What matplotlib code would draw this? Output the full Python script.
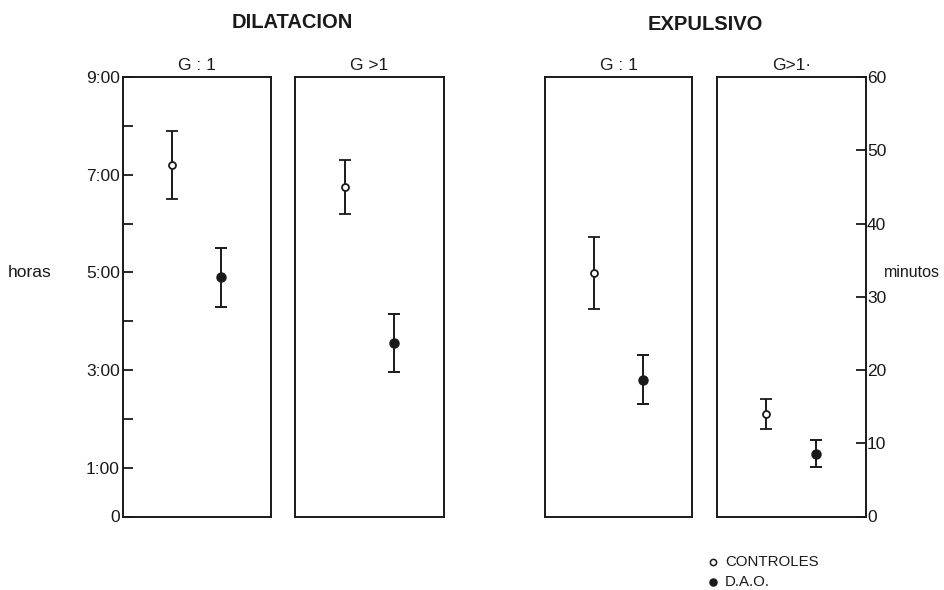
import matplotlib
matplotlib.use("Agg")
import matplotlib.pyplot as plt
from matplotlib.lines import Line2D

plt.rcParams['font.family'] = ['Liberation Sans', 'DejaVu Sans']

# Group labels
groups = ["G : 1", "G >1"]
groups_exp = ["G : 1", "G>1·"]

# Dilatación (hours): mean and error
dil_ctrl = [7.2, 6.75]
dil_ctrl_err = [0.7, 0.55]
dil_dao = [4.9, 3.55]
dil_dao_err = [0.6, 0.6]

# Expulsivo (minutes): mean and error
exp_ctrl = [33.2, 14.0]
exp_ctrl_err = [4.9, 2.0]
exp_dao = [18.7, 8.6]
exp_dao_err = [3.3, 1.9]

hour_ticks = [0, 1, 2, 3, 4, 5, 6, 7, 8, 9]
hour_labels = ["0", "1:00", "", "3:00", "", "5:00", "", "7:00", "", "9:00"]
minute_ticks = [0, 10, 20, 30, 40, 50, 60]
minute_labels = ["0", "10", "20", "30", "40", "50", "60"]

W, H = 944, 590
fig = plt.figure(figsize=(W / 100, H / 100), dpi=100)

def px_axes(x0, x1, y0=77, y1=516.5):
    return fig.add_axes([x0 / W, (H - y1) / H, (x1 - x0) / W, (y1 - y0) / H])

axes = [px_axes(122.7, 270.7), px_axes(295, 444),
        px_axes(545, 692.3), px_axes(716.7, 865.7)]

ink = "#1a1a1a"
err_kw = dict(ecolor=ink, elinewidth=1.4, capsize=4.2, capthick=1.4, linestyle="none")

def draw_pair(ax, c_mean, c_err, d_mean, d_err):
    ax.errorbar([1], [c_mean], yerr=[c_err], marker="o", markersize=5,
                markerfacecolor="white", markeredgecolor=ink, markeredgewidth=1.3,
                **err_kw)
    ax.errorbar([2], [d_mean], yerr=[d_err], marker="o", markersize=6.5,
                markerfacecolor=ink, markeredgecolor=ink, **err_kw)
    ax.set_xlim(0, 3)
    ax.set_xticks([])
    for s in ax.spines.values():
        s.set_linewidth(1.4)
        s.set_color(ink)

for i in range(2):
    ax = axes[i]
    draw_pair(ax, dil_ctrl[i], dil_ctrl_err[i], dil_dao[i], dil_dao_err[i])
    ax.set_ylim(0, 9)
    ax.set_title(groups[i], fontsize=12.5, pad=5, color=ink)

for i in range(2):
    ax = axes[2 + i]
    draw_pair(ax, exp_ctrl[i], exp_ctrl_err[i], exp_dao[i], exp_dao_err[i])
    ax.set_ylim(0, 60)
    ax.set_title(groups_exp[i], fontsize=12.5, pad=5, color=ink)

# left hour axis
ax = axes[0]
ax.set_yticks(hour_ticks)
ax.set_yticklabels(hour_labels)
ax.tick_params(axis="y", direction="in", length=7, width=1.3, pad=2,
               labelsize=12.5, colors=ink)
for ax in axes[1:3]:
    ax.set_yticks([])

# right minute axis
ax = axes[3]
ax.yaxis.tick_right()
ax.set_yticks(minute_ticks)
ax.set_yticklabels(minute_labels)
ax.tick_params(axis="y", direction="in", length=7, width=1.3, pad=1,
               labelsize=12.5, colors=ink)

fig.text(8 / W, 1 - 272 / H, "horas", fontsize=12.5, ha="left", va="center", color=ink)
fig.text(884 / W, 1 - 272 / H, "minutos", fontsize=11.5, ha="left", va="center", color=ink)

fig.text(292 / W, 1 - 22 / H, "DILATACION", fontsize=14.5, fontweight="bold",
         ha="center", va="center", color=ink)
fig.text(705 / W, 1 - 24 / H, "EXPULSIVO", fontsize=14.5, fontweight="bold",
         ha="center", va="center", color=ink)

# legend
leg_items = [("CONTROLES", "white", 4.5), ("D.A.O.", ink, 5)]
for k, (lab, fc, ms) in enumerate(leg_items):
    y = 1 - (562 + 20 * k) / H
    fig.add_artist(Line2D([713 / W], [y], marker="o", markersize=ms,
                          markerfacecolor=fc, markeredgecolor=ink,
                          markeredgewidth=1.1, linestyle="none",
                          transform=fig.transFigure))
    fig.text(725 / W, y, lab, fontsize=10.8, ha="left", va="center", color=ink)

fig.savefig("out.png", dpi=100)
